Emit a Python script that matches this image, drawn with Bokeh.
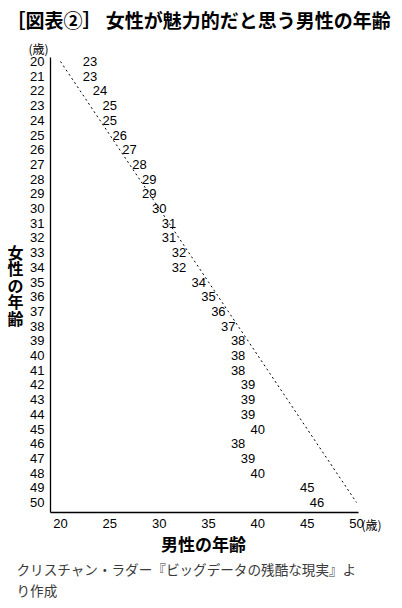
from bokeh.plotting import figure
from bokeh.models import Range1d, ColumnDataSource
from bokeh.core.properties import value
from bokeh.embed import file_html
from bokeh.resources import INLINE

# women's age (y) and the men's age they rate most attractive (shown as text)
women_age = list(range(20, 51))
men_age = [23, 23, 24, 25, 25, 26, 27, 28, 29, 29, 30, 31, 31, 32, 32,
           34, 35, 36, 37, 38, 38, 38, 39, 39, 39, 40, 38, 39, 40, 45, 46]
x_ticks = [20, 25, 30, 35, 40, 45, 50]
diag = [20, 50]
y_title = list("女性の年齢")

NUM_FONT = "Liberation Sans"
JP_FONT = "Noto Sans CJK JP"

W, H = 400, 606
XPX, YPX = 9.867, 14.7   # pixels per year on each axis


# canvas pixel -> data coordinates (the frame covers the whole canvas so that
# the titles and notes are not clipped)
def px(x):
    return 20 + (x - 60) / XPX


def py(y):
    return 20 + (y - 61) / YPX


p = figure(width=W, height=H, output_backend="svg", toolbar_location=None,
           x_range=Range1d(px(0), px(W)), y_range=Range1d(py(H), py(0)),
           x_axis_location=None, y_axis_location=None, min_border=0)
p.outline_line_color = None
p.grid.visible = False

# axis lines
p.segment(x0=[px(50), px(50)], y0=[py(57), py(512)],
          x1=[px(50), px(358)], y1=[py(512), py(512)],
          line_color="black", line_width=1.3)

# tick labels
p.text(x=[px(44)] * len(women_age), y=women_age, text=[str(v) for v in women_age],
       text_font=value(NUM_FONT), text_font_size="13px", text_align="right",
       text_baseline="middle", text_color="black")
p.text(x=x_ticks, y=[py(523)] * len(x_ticks), text=[str(v) for v in x_ticks],
       text_font=value(NUM_FONT), text_font_size="13px", text_align="center",
       text_baseline="middle", text_color="black")

# equal-age diagonal
p.line(diag, diag, line_color="black", line_width=1, line_dash="2 3")

src = ColumnDataSource(dict(x=men_age, y=women_age, t=[str(v) for v in men_age]))
p.text("x", "y", text="t", source=src, text_font=value(NUM_FONT),
       text_font_size="13px", text_align="center", text_baseline="middle",
       text_color="black")


def add_text(x, y, text, size, bold=False, align="left", color="black"):
    p.text(x=[px(x)], y=[py(y)], text=[text], text_font=value(JP_FONT),
           text_font_size=size, text_font_style="bold" if bold else "normal",
           text_align=align, text_baseline="middle", text_color=color)


add_text(6, 19, "［図表②］ 女性が魅力的だと思う男性の年齢", "19px", bold=True)
add_text(38, 48, "(歳)", "12px", align="center")
add_text(371, 524, "(歳)", "12px", align="center")
add_text(203, 543, "男性の年齢", "17px", bold=True, align="center")

# vertical title, one upright character per line
p.text(x=[px(15)] * len(y_title), y=[py(251 + 16.5 * i) for i in range(len(y_title))],
       text=y_title, text_font=value(JP_FONT), text_font_size="16px",
       text_font_style="bold", text_align="center", text_baseline="middle",
       text_color="black")

add_text(16, 568, "クリスチャン・ラダー『ビッグデータの残酷な現実』よ", "13.6px", color="#3a3a3a")
add_text(16, 589, "り作成", "13.6px", color="#3a3a3a")

open("out.html", "w").write(file_html(p, INLINE))
